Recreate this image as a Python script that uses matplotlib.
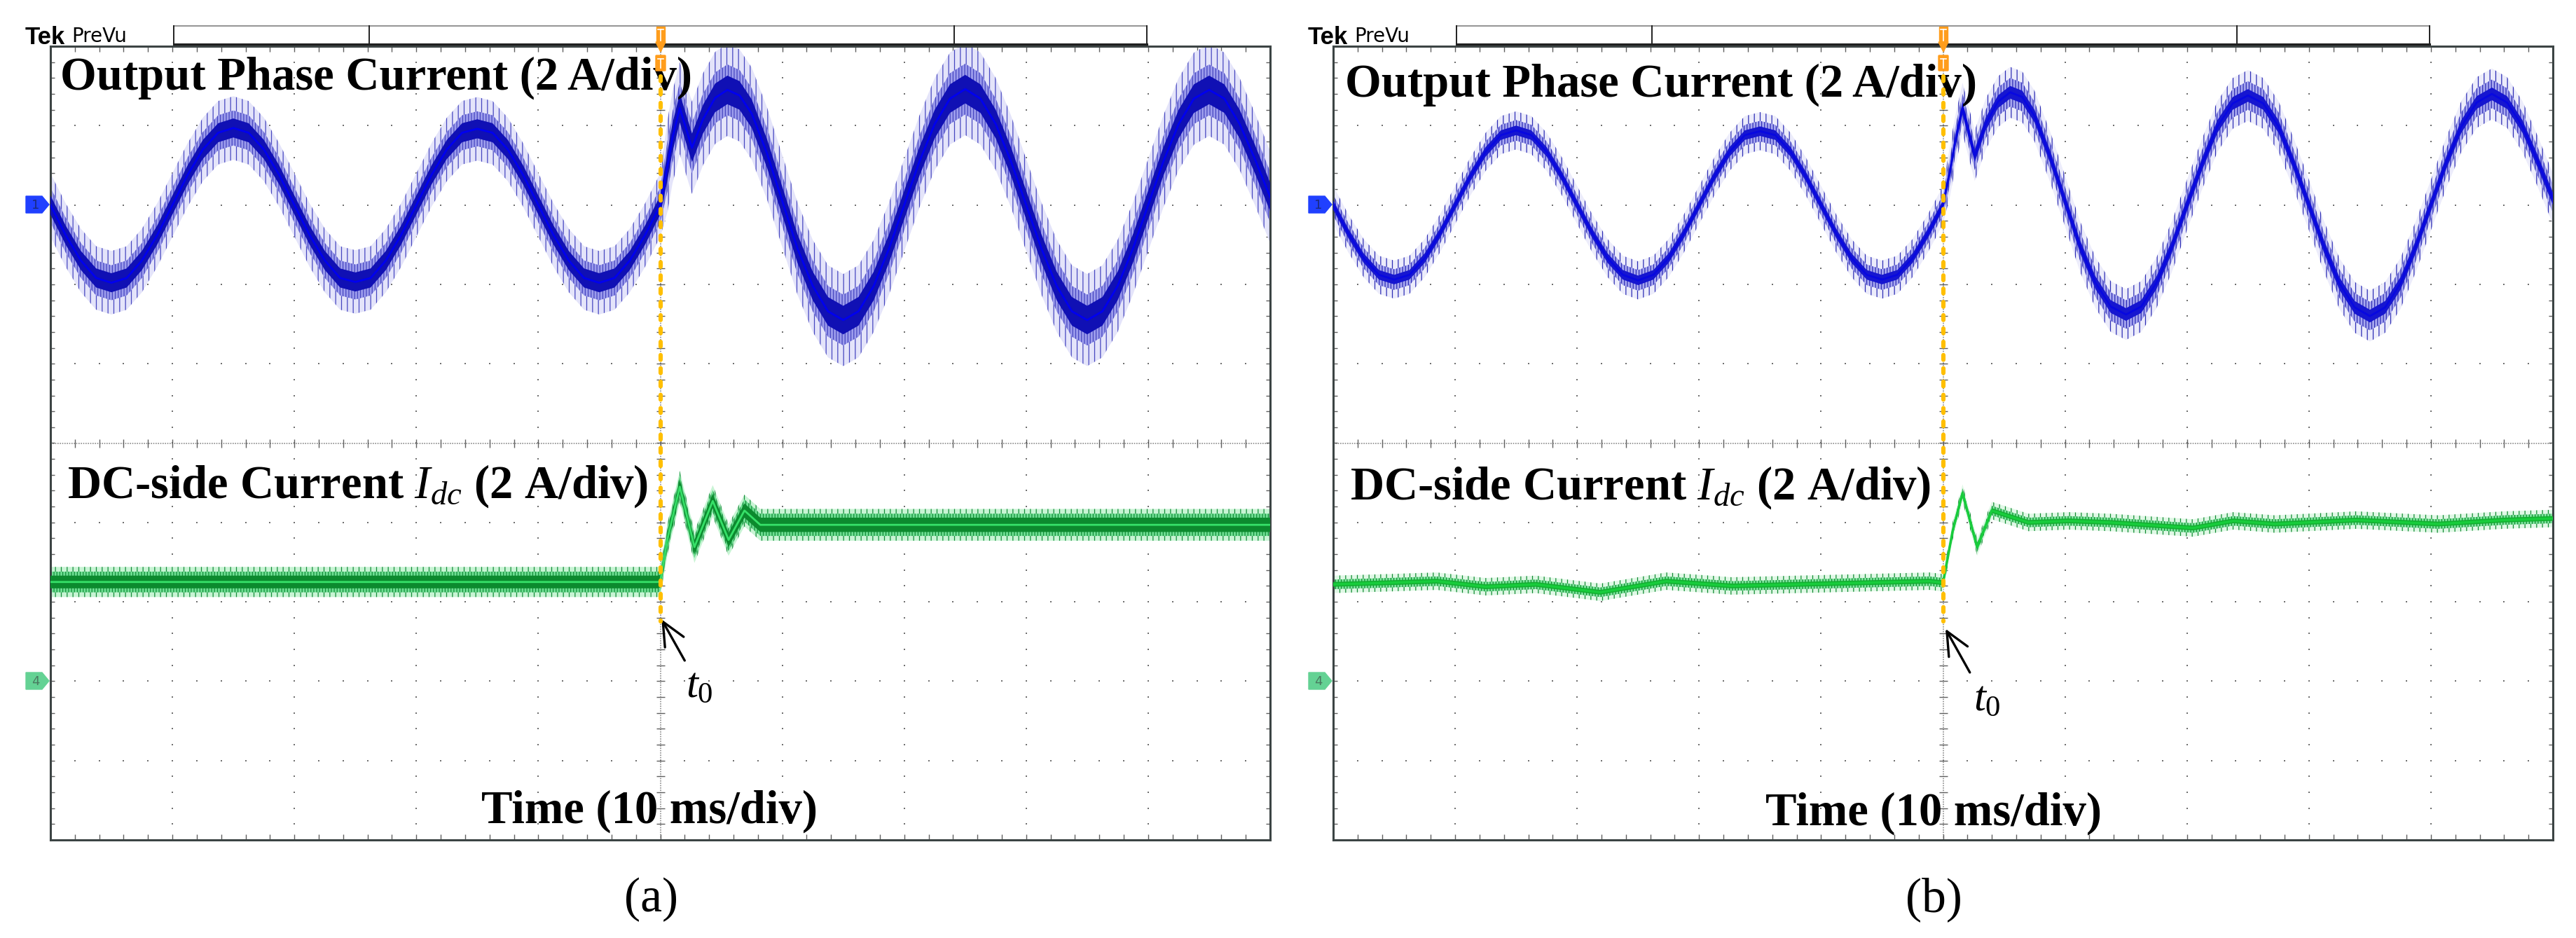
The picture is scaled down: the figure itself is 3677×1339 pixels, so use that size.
import numpy as np
import matplotlib
matplotlib.use("Agg")
import matplotlib.pyplot as plt
from matplotlib.patches import Polygon, Rectangle, FancyBboxPatch

W, H, DPI = 3677, 1339, 100

plt.rcParams["font.family"] = ["Liberation Serif", "DejaVu Serif"]
plt.rcParams["mathtext.fontset"] = "custom"
plt.rcParams["mathtext.rm"] = "Liberation Serif"
plt.rcParams["mathtext.it"] = "Liberation Serif:italic"
plt.rcParams["hatch.linewidth"] = 0.9

# readings in scope divisions: x 0..10 (10 ms/div), y -5..5 (2 A/div)
trigger_x = 5.0

ch1_x = [0.000, 0.125, 0.250, 0.375, 0.500, 0.625, 0.750, 0.875, 1.000, 1.125,
         1.250, 1.375, 1.500, 1.625, 1.750, 1.875, 2.000, 2.125, 2.250, 2.375,
         2.500, 2.625, 2.750, 2.875, 3.000, 3.125, 3.250, 3.375, 3.500, 3.625,
         3.750, 3.875, 4.000, 4.125, 4.250, 4.375, 4.500, 4.625, 4.750, 4.875,
         5.000,
         5.060, 5.100, 5.160, 5.260, 5.350, 5.450, 5.550, 5.650, 5.750, 5.875,
         6.000, 6.125, 6.250, 6.375, 6.500, 6.625, 6.750, 6.875, 7.000, 7.125,
         7.250, 7.375, 7.500, 7.625, 7.750, 7.875, 8.000, 8.125, 8.250, 8.375,
         8.500, 8.625, 8.750, 8.875, 9.000, 9.125, 9.250, 9.375, 9.500, 9.625,
         9.750, 9.875, 10.000]

ch1_y_a = [3.00, 2.62, 2.30, 2.08, 2.02, 2.08, 2.30, 2.62, 3.00, 3.38,
           3.70, 3.91, 3.97, 3.91, 3.70, 3.38, 3.00, 2.62, 2.30, 2.08,
           2.03, 2.08, 2.30, 2.62, 3.00, 3.38, 3.70, 3.91, 3.96, 3.91,
           3.70, 3.38, 3.00, 2.62, 2.30, 2.08, 2.02, 2.08, 2.30, 2.62,
           3.00,
           3.50, 3.85, 4.22, 3.72, 4.08, 4.35, 4.45, 4.38, 4.15, 3.65,
           3.05, 2.45, 1.98, 1.66, 1.55, 1.66, 1.98, 2.45, 3.00, 3.55,
           4.02, 4.34, 4.46, 4.34, 4.02, 3.55, 3.00, 2.45, 1.98, 1.66,
           1.55, 1.66, 1.98, 2.45, 3.00, 3.55, 4.02, 4.34, 4.45, 4.34,
           4.02, 3.58, 3.10]

ch1_y_b = [3.00, 2.64, 2.33, 2.12, 2.06, 2.12, 2.33, 2.64, 3.00, 3.36,
           3.67, 3.88, 3.94, 3.88, 3.67, 3.36, 3.00, 2.64, 2.33, 2.12,
           2.05, 2.12, 2.33, 2.64, 3.00, 3.36, 3.67, 3.88, 3.93, 3.88,
           3.67, 3.36, 3.00, 2.64, 2.33, 2.12, 2.06, 2.12, 2.33, 2.64,
           3.00,
           3.45, 3.80, 4.22, 3.62, 4.02, 4.30, 4.42, 4.36, 4.12, 3.62,
           3.05, 2.47, 2.02, 1.72, 1.62, 1.72, 2.02, 2.47, 3.00, 3.52,
           3.99, 4.28, 4.38, 4.28, 3.99, 3.52, 3.00, 2.47, 2.01, 1.71,
           1.60, 1.71, 2.01, 2.47, 3.00, 3.53, 3.99, 4.29, 4.40, 4.29,
           3.99, 3.55, 3.08]

ch4_x_a = [0.00, 4.98, 5.00, 5.06, 5.16, 5.28, 5.43, 5.56, 5.69, 5.82, 10.00]
ch4_y_a = [-1.75, -1.75, -1.74, -1.20, -0.55, -1.31, -0.73, -1.22, -0.85, -1.03, -1.03]

ch4_x_b = [0.00, 0.45, 0.85, 1.25, 1.66, 2.19, 2.73, 3.27, 3.81, 4.35, 4.89, 5.00,
           5.08, 5.16, 5.28, 5.40, 5.70, 6.03, 6.37, 7.05, 7.38, 7.72, 8.39, 9.06,
           9.60, 10.00]
ch4_y_b = [-1.78, -1.76, -1.74, -1.81, -1.78, -1.88, -1.74, -1.80, -1.78, -1.76,
           -1.74, -1.76, -1.10, -0.63, -1.31, -0.85, -1.00, -0.98, -1.00, -1.07,
           -0.98, -1.02, -0.97, -1.02, -0.97, -0.95]

panel_labels = ["(a)", "(b)"]
ch1_title = "Output Phase Current (2 A/div)"
ch4_title = r"DC-side Current $I_{dc}$ (2 A/div)"
time_title = "Time (10 ms/div)"
marker_text = r"$t_0$"


def draw_graticule(ax):
    fx = np.arange(0, 10.001, 0.2)
    fy = np.arange(-5, 5.001, 0.2)
    dot = dict(ls="none", marker="s", ms=1.6, mew=0, color="#707070", zorder=1)
    for g in range(1, 10):
        if g != 5:
            ax.plot(np.full_like(fy, g), fy, **dot)
    for g in range(-4, 5):
        if g != 0:
            ax.plot(fx, np.full_like(fx, g), **dot)
    ax.plot([0, 10], [0, 0], color="#8c8c8c", lw=1.2, ls=(0, (1, 1)), zorder=1)
    ax.plot([5, 5], [-5, 5], color="#8c8c8c", lw=1.2, ls=(0, (1, 1)), zorder=1)
    tick = dict(ls="none", mew=1.0, color="#606060", zorder=1)
    ax.plot(fx, np.zeros_like(fx), marker="|", ms=8, **tick)
    ax.plot(np.full_like(fy, 5), fy, marker="_", ms=8, **tick)
    # inward ticks on the frame (half of each marker is clipped away)
    ax.plot(fx, np.full_like(fx, -5), marker="|", ms=11, **tick)
    ax.plot(fx, np.full_like(fx, 5), marker="|", ms=11, **tick)
    ax.plot(np.zeros_like(fy), fy, marker="_", ms=9, **tick)
    ax.plot(np.full_like(fy, 10), fy, marker="_", ms=9, **tick)


def draw_trace(ax, x, y, st):
    x = np.asarray(x)
    y = np.asarray(y)
    post = x > trigger_x
    outer = np.where(post, st["outer"][1], st["outer"][0])
    inner = np.where(post, st["inner"][1], st["inner"][0])
    core = np.where(post, st["core"][1], st["core"][0])
    ax.fill_between(x, y - outer, y + outer, facecolor=st["c_outer"],
                    edgecolor=st["c_hatch"], hatch="||", linewidth=0, zorder=2)
    ax.fill_between(x, y - inner, y + inner, facecolor=st["c_inner"],
                    edgecolor=st["c_hatch"], hatch="||||", linewidth=0, zorder=2)
    ax.fill_between(x, y - core, y + core, facecolor=st["c_core"], linewidth=0, zorder=3)
    ax.plot(x, y, color=st["c_line"], lw=st["lw"], zorder=3)


blue_a = dict(core=(0.12, 0.18), inner=(0.22, 0.32), outer=(0.40, 0.58),
              c_outer="#e4e4fa", c_inner="#9c9cec", c_hatch="#4646c0",
              c_core="#1010b4", c_line="#0000f0", lw=2.0)
blue_b = dict(core=(0.06, 0.08), inner=(0.13, 0.18), outer=(0.24, 0.32),
              c_outer="#ececfb", c_inner="#a8a8f0", c_hatch="#2c2cb4",
              c_core="#1616d0", c_line="#0808e0", lw=2.0)
green_a = dict(core=(0.08, 0.09), inner=(0.13, 0.14), outer=(0.19, 0.20),
               c_outer="#c8f4d4", c_inner="#6ede92", c_hatch="#128c38",
               c_core="#0c8a2e", c_line="#36e068", lw=2.0)
green_b = dict(core=(0.03, 0.03), inner=(0.06, 0.06), outer=(0.11, 0.11),
               c_outer="#e0f8e6", c_inner="#7ce49c", c_hatch="#108a30",
               c_core="#12b030", c_line="#18cc3c", lw=2.5)

panels = [
    dict(left=72, ch1=(ch1_x, ch1_y_a), ch4=(ch4_x_a, ch4_y_a), s1=blue_a, s4=green_a,
         t1=(0.08, 4.46), t4=(0.14, -0.69), tt=(4.91, -4.78),
         t0=(5.32, -3.07), head=(5.01, -2.22), tail=(5.20, -2.74)),
    dict(left=1903, ch1=(ch1_x, ch1_y_b), ch4=(ch4_x_b, ch4_y_b), s1=blue_b, s4=green_b,
         t1=(0.10, 4.37), t4=(0.14, -0.71), tt=(4.92, -4.81),
         t0=(5.36, -3.23), head=(5.02, -2.34), tail=(5.22, -2.89)),
]

fig = plt.figure(figsize=(W / DPI, H / DPI), dpi=DPI)
fig.patch.set_facecolor("white")

TOP, BOT, SW = 66, 1199, 1741
label_kw = dict(fontsize=48, fontweight="bold", color="black", zorder=5)

for p in panels:
    L = p["left"]
    ax = fig.add_axes([L / W, 1 - BOT / H, SW / W, (BOT - TOP) / H])
    ax.set_xlim(0, 10)
    ax.set_ylim(-5, 5)
    ax.set_xticks([])
    ax.set_yticks([])
    for s in ax.spines.values():
        s.set_color("#3c4444")
        s.set_linewidth(2.2)

    draw_graticule(ax)
    draw_trace(ax, *p["ch1"], p["s1"])
    draw_trace(ax, *p["ch4"], p["s4"])

    # trigger line
    ax.plot([trigger_x, trigger_x], [4.62, -2.25], color="#ffbf00", lw=4.4,
            dashes=(1.1, 2.0), dash_capstyle="round", zorder=6)

    ax.text(*p["t1"], ch1_title, ha="left", va="baseline", **label_kw)
    ax.text(*p["t4"], ch4_title, ha="left", va="baseline", **label_kw)
    ax.text(*p["tt"], time_title, ha="center", va="baseline", **label_kw)
    ax.text(*p["t0"], marker_text, ha="center", va="center", fontsize=44, zorder=5)
    ax.annotate("", xy=p["head"], xytext=p["tail"],
                arrowprops=dict(arrowstyle="->,head_length=2.4,head_width=1.1",
                                lw=2.4, color="black", shrinkA=0, shrinkB=0),
                zorder=5)

# chrome around the screens, in pixel coordinates
over = fig.add_axes([0, 0, 1, 1])
over.set_xlim(0, W)
over.set_ylim(H, 0)
over.axis("off")
over.patch.set_visible(False)

for p, lab in zip(panels, panel_labels):
    L = p["left"]
    cx = L + 871
    # record bar
    over.plot([L + 176, L + 1565], [37, 37], color="#808080", lw=1.2)
    over.plot([L + 176, L + 1565], [63, 63], color="#202020", lw=2.2)
    for bx in (L + 176, L + 455, L + 1290, L + 1565):
        over.plot([bx, bx], [37, 63], color="#202020", lw=1.4)
    over.text(L - 36, 63, "Tek", family="Liberation Sans", fontweight="bold",
              fontsize=25, va="baseline", ha="left")
    over.text(L + 30, 60, "PreVu", family="DejaVu Sans", fontsize=20,
              va="baseline", ha="left")
    # trigger position markers
    over.add_patch(Rectangle((cx - 6, 38), 12, 22, color="#ff9d1c", zorder=7))
    over.plot([cx, cx], [42, 58], color="white", lw=1.2, zorder=8)
    over.plot([cx - 4, cx + 4], [42, 42], color="white", lw=1.2, zorder=8)
    over.add_patch(Polygon([(cx - 7, 60), (cx + 7, 60), (cx, 74)], color="#ff9d1c", zorder=7))
    over.add_patch(FancyBboxPatch((cx - 6, 80), 12, 20, boxstyle="round,pad=1",
                                  color="#ff9d1c", zorder=7))
    over.plot([cx, cx], [84, 97], color="white", lw=1.2, zorder=8)
    over.plot([cx - 4, cx + 4], [84, 84], color="white", lw=1.2, zorder=8)
    # channel ground markers
    for gy, fc, tc, num in ((292, "#2040ff", "#1a2a80", "1"), (972, "#64d294", "#4a7a60", "4")):
        over.add_patch(Polygon([(L - 35, gy - 12), (L - 12, gy - 12), (L - 2, gy),
                                (L - 12, gy + 12), (L - 35, gy + 12)], color=fc, zorder=7))
        over.text(L - 21, gy + 1, num, family="DejaVu Sans", fontsize=13, color=tc,
                  ha="center", va="center", zorder=8)
    over.text(L + 857, 1284, lab, fontsize=50, ha="center", va="center")

fig.savefig("out.png", dpi=DPI, facecolor="white")
